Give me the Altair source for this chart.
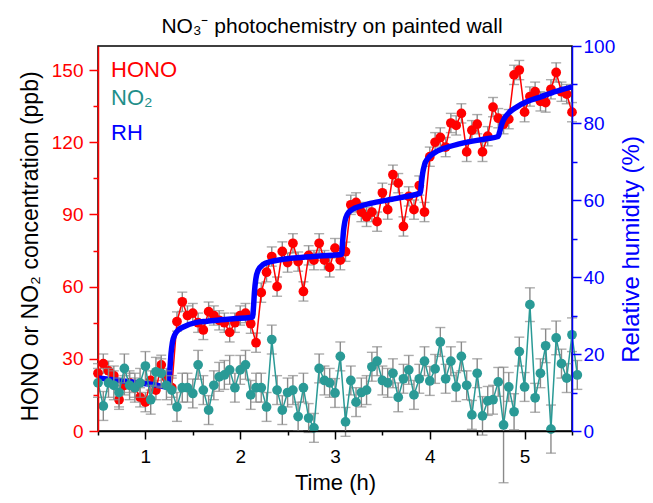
import altair as alt
import pandas as pd

# ---------------- data ----------------
time_h = [0.500, 0.556, 0.611, 0.667, 0.722, 0.778, 0.833, 0.889, 0.944, 1.000,
          1.056, 1.111, 1.167, 1.222, 1.278, 1.333, 1.389, 1.444, 1.500, 1.556,
          1.611, 1.667, 1.722, 1.778, 1.833, 1.889, 1.944, 2.000, 2.056, 2.111,
          2.167, 2.222, 2.278, 2.333, 2.389, 2.444, 2.500, 2.556, 2.611, 2.667,
          2.722, 2.778, 2.833, 2.889, 2.944, 3.000, 3.056, 3.111, 3.167, 3.222,
          3.278, 3.333, 3.389, 3.444, 3.500, 3.556, 3.611, 3.667, 3.722, 3.778,
          3.833, 3.889, 3.944, 4.000, 4.056, 4.111, 4.167, 4.222, 4.278, 4.333,
          4.389, 4.444, 4.500, 4.556, 4.611, 4.667, 4.722, 4.778, 4.833, 4.889,
          4.944, 5.000, 5.056, 5.111, 5.167, 5.222, 5.278, 5.333, 5.389, 5.444,
          5.500, 5.556]

hono_ppb = [24, 28, 25, 23, 13, 19, 20, 18, 14, 12,
            21, 17, 27.5, 22, 18, 45.5, 53.7, 48, 49, 45,
            42, 49.6, 48, 46, 45, 41, 45, 48, 49, 44.6,
            36.7, 57.5, 66, 72.5, 60, 74.6, 70, 78, 70.4, 58,
            73, 71, 78, 71, 68, 76, 71, 74.5, 94, 95,
            91, 89, 91, 87, 99, 92, 106.5, 103, 85, 97.5,
            92, 102, 91, 114, 120, 122, 118, 128, 127, 132,
            116, 125, 127.5, 116, 122.5, 134.6, 130, 127.5, 129.6, 148,
            150, 132.5, 139, 141, 137, 136.5, 142, 149, 141, 140,
            132.5]
hono_err = [4] * 91

no2_ppb = [20, 10.4, 20, 19, 16, 26, 19, 18, 20, 27,
           13, 24.6, 24, 19, 17, 10, 18, 18, 15.6, 27.5,
           17, 8.7, 19, 22.5, 23.3, 25.4, 18, 25.4, 27.5, 15,
           18, 18, 10, 38, 17, 8.7, 16, 17, 6, 18,
           5.4, 1.3, 26, 21, 20, 15.8, 31, 3.8, 21, 12,
           16, 17, 26.7, 29, 21, 20, 24, 14, 21.7, 25.4,
           15, 21.7, 29, 20.8, 25.8, 37, 21.7, 29, 18.3, 31,
           19, 6.7, 24, 6.3, 12.5, 13, 20.4, 2.5, 18.3, 8,
           33, 18.3, 52.5, 13.8, 24, 35.4, 0.8, 38.7, 28, 22,
           40, 23.3]
no2_err = [6] * 73 + [8, 6, 6, 6, 24, 6, 7.5, 6, 6, 7, 6, 6, 7, 10, 7, 6, 6, 7, 6]

rh_time = [0.50, 0.70, 0.90, 1.10, 1.24, 1.25, 1.26, 1.27, 1.285, 1.31,
           1.35, 1.40, 1.54, 1.65, 1.80, 1.95, 2.10, 2.13, 2.14, 2.15,
           2.165, 2.19, 2.24, 2.32, 2.45, 2.60, 2.80, 3.00, 3.07, 3.08,
           3.09, 3.105, 3.13, 3.18, 3.28, 3.45, 3.60, 3.75, 3.90, 3.91,
           3.925, 3.945, 3.98, 4.05, 4.15, 4.30, 4.45, 4.60, 4.72, 4.74,
           4.76, 4.79, 4.84, 4.92, 5.02, 5.17, 5.33, 5.50]
rh_pct = [13.8, 13.2, 12.6, 12.0, 11.4, 13.0, 16.5, 20.0, 23.0, 25.0,
          26.3, 27.0, 28.2, 28.5, 28.9, 29.2, 29.5, 29.6, 32.0, 36.0,
          39.5, 41.8, 43.2, 44.0, 44.6, 45.0, 45.4, 45.7, 45.9, 49.0,
          52.0, 54.5, 56.3, 57.5, 58.5, 59.5, 60.2, 60.9, 61.8, 64.0,
          67.0, 69.2, 70.8, 72.3, 73.4, 74.5, 75.3, 75.9, 76.5, 78.0,
          79.8, 81.3, 82.8, 84.2, 85.5, 86.8, 88.2, 89.4]

title_text = ["NO\u2083\u207b photochemistry on painted wall"]
legend_labels = ["HONO", "NO\u2082", "RH"]
x_ticks = [0.5, 1, 1.5, 2, 2.5, 3, 3.5, 4, 4.5, 5, 5.5]
left_ticks = [0, 15, 30, 45, 60, 75, 90, 105, 120, 135, 150]
right_ticks = [0, 10, 20, 30, 40, 50, 60, 70, 80, 90, 100]

# ---------------- styling ----------------
RED = "#FF0000"
TEAL = "#2A9A96"
TEAL_TXT = "#1F8F8A"
BLUE = "#0000FF"
GRAY = "#8A8A8A"
FONT = "Liberation Sans"

hono_df = pd.DataFrame({"time": time_h[:len(hono_ppb)], "v": hono_ppb, "err": hono_err})
no2_df = pd.DataFrame({"time": time_h, "v": no2_ppb, "err": no2_err})
rh_df = pd.DataFrame({"time": rh_time, "rh": rh_pct})
leg_df = pd.DataFrame({"label": legend_labels})
title_df = pd.DataFrame({"t": title_text})

x_axis = alt.Axis(values=x_ticks, labelExpr="datum.value % 1 === 0 ? '' + datum.value : ''",
                  tickSize={"condition": {"test": "datum.value % 1 === 0", "value": 8}, "value": 4},
                  domainColor="black", tickColor="black", labelColor="black",
                  labelPadding=8, title="Time (h)", titleY=58, titleBaseline="alphabetic",
                  grid=False, zindex=1)
x_enc = alt.X("time:Q", scale=alt.Scale(domain=[0.5, 5.5], nice=False, zero=False), axis=x_axis)

left_axis = alt.Axis(values=left_ticks, labelExpr="datum.value % 30 === 0 ? '' + datum.value : ''",
                     tickSize={"condition": {"test": "datum.value % 30 === 0", "value": 9}, "value": 5},
                     domainColor=RED, tickColor=RED, labelColor=RED, labelPadding=6,
                     title="HONO or NO\u2082 concentration (ppb)", titleColor="black",
                     titleAngle=270, titleX=-68, titleY=200, titleBaseline="middle",
                     titleAlign="center", titleFontSize=23, grid=False, orient="left", zindex=1)
left_scale = alt.Scale(domain=[0, 160], nice=False)


def y_left(field):
    return alt.Y(field, type="quantitative", scale=left_scale, axis=left_axis)


def y_hidden(field):
    return alt.Y(field, type="quantitative", scale=left_scale, axis=None)


def series(df, color, yfn):
    base = alt.Chart(df).transform_calculate(lo="datum.v - datum.err", hi="datum.v + datum.err")
    bars = base.mark_rule(color=GRAY, strokeWidth=1.4).encode(x=x_enc, y=yfn("lo"), y2="hi:Q")
    cap_hi = base.mark_tick(orient="horizontal", size=10, thickness=1.4, color=GRAY).encode(x=x_enc, y=yfn("hi"))
    cap_lo = base.mark_tick(orient="horizontal", size=10, thickness=1.4, color=GRAY).encode(x=x_enc, y=yfn("lo"))
    line = base.mark_line(color=color, strokeWidth=1.5).encode(x=x_enc, y=yfn("v"))
    pts = base.mark_circle(color=color, size=95, opacity=1).encode(x=x_enc, y=yfn("v"))
    return alt.layer(bars, cap_hi, cap_lo, line, pts)


hono_layer = series(hono_df, RED, y_left)
no2_layer = series(no2_df, TEAL, y_hidden)

right_axis = alt.Axis(values=right_ticks, labelExpr="datum.value % 20 === 0 ? '' + datum.value : ''",
                      tickSize={"condition": {"test": "datum.value % 20 === 0", "value": 9}, "value": 5},
                      domainColor=BLUE, tickColor=BLUE, labelColor=BLUE, labelPadding=2,
                      title="Relative humidity (%)", titleColor=BLUE, titleAngle=270,
                      titleX=59, titleY=203, titleBaseline="middle", titleAlign="center",
                      titleFontSize=24, grid=False, orient="right", zindex=1)
rh_line = alt.Chart(rh_df).mark_line(color=BLUE, strokeWidth=5.5, interpolate="monotone").encode(
    x=x_enc,
    y=alt.Y("rh:Q", scale=alt.Scale(domain=[0, 100], nice=False), axis=right_axis),
)

leg_colors = [RED, TEAL_TXT, BLUE]
leg_y = [31, 59, 94]
legend_layers = []
for i, lab in enumerate(legend_labels):
    legend_layers.append(
        alt.Chart(leg_df).transform_filter(alt.datum.label == lab).mark_text(
            align="left", baseline="alphabetic", fontSize=22, font=FONT, color=leg_colors[i]
        ).encode(x=alt.value(13), y=alt.value(leg_y[i]), text="label:N")
    )

title_layer = alt.Chart(title_df).mark_text(
    align="center", baseline="alphabetic", fontSize=21, font=FONT, color="black"
).encode(x=alt.value(234), y=alt.value(-13), text="t:N")

chart = alt.layer(hono_layer, rh_line, no2_layer, *legend_layers, title_layer).resolve_scale(
    y="independent"
).properties(
    width=474, height=385,
    autosize=alt.AutoSizeParams(type="none"),
    padding={"left": 90, "top": 38, "right": 73, "bottom": 64},
).configure_view(stroke="black", strokeWidth=1.5).configure_axis(
    labelFont=FONT, titleFont=FONT, labelFontSize=19, titleFontSize=22, titleFontWeight="normal",
    domainWidth=1.5, tickWidth=1.5,
)

chart.save("out.html", embed_options={"renderer": "svg", "actions": False})
